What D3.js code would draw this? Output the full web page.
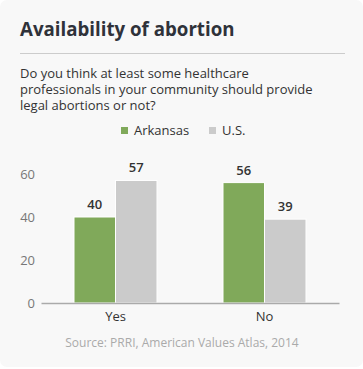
<!DOCTYPE html>
<html lang="en">
<head>
  <meta charset="UTF-8">
  <title>Availability of abortion</title>
  <script src="https://d3js.org/d3.v7.min.js"></script>
  <style>
    body {
      margin: 0;
      background: #fff;
      font-family: "Open Sans", Arial, sans-serif;
    }
  </style>
</head>
<body>
  <svg id="chart" width="363" height="369"></svg>

<script>
// Chart data
const categories = ["Yes", "No"];
const seriesNames = ["Arkansas", "U.S."];
const arkansasValues = [40, 56];
const usValues = [57, 39];
const yTicks = [0, 20, 40, 60];
const colors = ["#80a95a", "#cbcbcb"];

const svg = d3.select("#chart");

// Card background
svg.append("rect")
  .attr("x", 0).attr("y", 0)
  .attr("width", 363).attr("height", 367)
  .attr("rx", 7)
  .attr("fill", "#f8f8f8");

// Title and divider
svg.append("text")
  .attr("x", 20).attr("y", 36)
  .attr("font-size", 18.7)
  .attr("font-weight", 700)
  .attr("fill", "#2f323a")
  .text("Availability of abortion");

svg.append("line")
  .attr("x1", 20).attr("x2", 345)
  .attr("y1", 53.5).attr("y2", 53.5)
  .attr("stroke", "#cccccc");

// Subtitle
const subtitle = [
  "Do you think at least some healthcare",
  "professionals in your community should provide",
  "legal abortions or not?"
];
svg.append("g")
  .selectAll("text")
  .data(subtitle)
  .join("text")
  .attr("x", 20)
  .attr("y", (d, i) => 78 + i * 16)
  .attr("font-size", 13)
  .attr("fill", "#333")
  .text(d => d);

// Legend
const legend = svg.append("g");
const legendX = [121, 209];
seriesNames.forEach((name, i) => {
  legend.append("rect")
    .attr("x", legendX[i]).attr("y", 127)
    .attr("width", 7).attr("height", 7)
    .attr("fill", colors[i]);
  legend.append("text")
    .attr("x", legendX[i] + 13).attr("y", 135)
    .attr("font-size", 13)
    .attr("fill", "#333")
    .text(name);
});

// Scales
const margin = { left: 41, right: 339, bottom: 303 };
const x0 = d3.scaleBand()
  .domain(categories)
  .range([margin.left, margin.right])
  .paddingInner(0.443)
  .paddingOuter(0.2215);

const x1 = d3.scaleBand()
  .domain(seriesNames)
  .range([0, x0.bandwidth()]);

const y = d3.scaleLinear()
  .domain([0, 60])
  .range([margin.bottom, 174]);

// Y tick labels (no gridlines)
svg.append("g")
  .selectAll("text")
  .data(yTicks)
  .join("text")
  .attr("x", 35)
  .attr("y", d => y(d))
  .attr("dy", "0.35em")
  .attr("text-anchor", "end")
  .attr("font-size", 13)
  .attr("fill", "#777")
  .text(d => d);

// Bars
const rows = categories.map((c, i) => ({
  category: c,
  values: [
    { series: seriesNames[0], value: arkansasValues[i], color: colors[0] },
    { series: seriesNames[1], value: usValues[i], color: colors[1] }
  ]
}));

const groups = svg.append("g")
  .selectAll("g")
  .data(rows)
  .join("g")
  .attr("transform", d => `translate(${x0(d.category)},0)`);

groups.selectAll("rect")
  .data(d => d.values)
  .join("rect")
  .attr("x", d => x1(d.series))
  .attr("y", d => y(d.value))
  .attr("width", x1.bandwidth())
  .attr("height", d => y(0) - y(d.value))
  .attr("fill", d => d.color)
  .attr("stroke", "#ffffff")
  .attr("stroke-width", 1);

groups.selectAll("text")
  .data(d => d.values)
  .join("text")
  .attr("x", d => x1(d.series) + x1.bandwidth() / 2)
  .attr("y", d => y(d.value) - 8)
  .attr("text-anchor", "middle")
  .attr("font-size", 13)
  .attr("font-weight", 600)
  .attr("fill", "#333")
  .text(d => d.value);

// X axis
const xAxis = svg.append("g")
  .attr("transform", `translate(0,${margin.bottom})`)
  .call(d3.axisBottom(x0).tickSize(0).tickPadding(9));
xAxis.select(".domain").attr("stroke", "#aaaaaa").attr("stroke-width", 1.5);
xAxis.selectAll("text")
  .attr("font-family", "Open Sans, Arial, sans-serif")
  .attr("font-size", 13)
  .attr("fill", "#333");

// Source
svg.append("text")
  .attr("x", 182).attr("y", 347)
  .attr("text-anchor", "middle")
  .attr("font-size", 12)
  .attr("fill", "#aaaaaa")
  .text("Source: PRRI, American Values Atlas, 2014");
</script>
</body>
</html>
